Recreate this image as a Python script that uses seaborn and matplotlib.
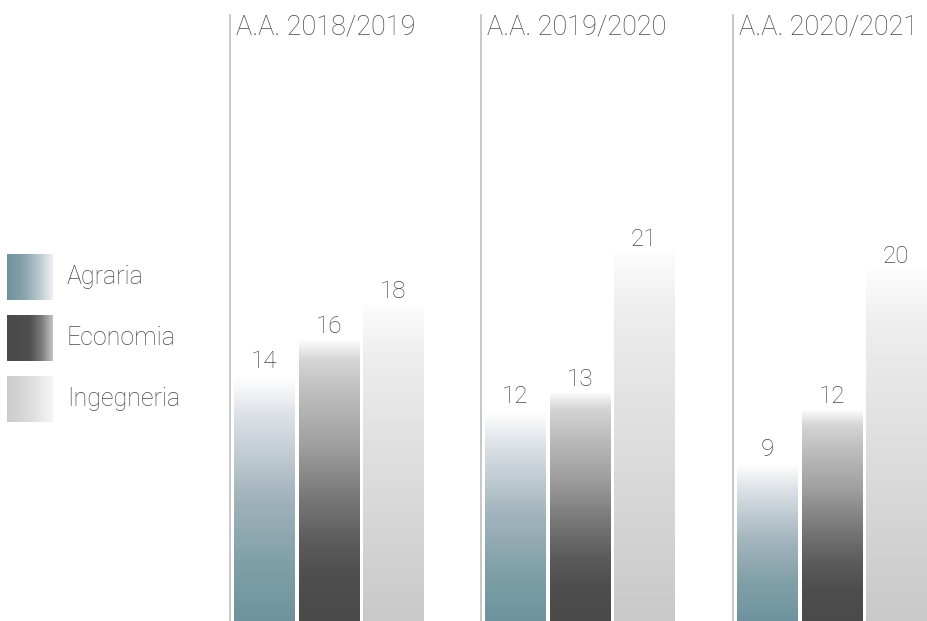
import numpy as np
import pandas as pd
import matplotlib
matplotlib.use('Agg')
import matplotlib.pyplot as plt
from matplotlib.colors import LinearSegmentedColormap
import seaborn as sns

# data
anni = ['A.A. 2018/2019', 'A.A. 2019/2020', 'A.A. 2020/2021']
facolta = ['Agraria', 'Economia', 'Ingegneria']
agraria = [14, 12, 9]
economia = [16, 13, 12]
ingegneria = [18, 21, 20]

df = pd.DataFrame({
    'anno': np.repeat(anni, 3),
    'facolta': facolta * 3,
    'valore': [v for trio in zip(agraria, economia, ingegneria) for v in trio],
})

sns.set_theme(style='white')
plt.rcParams['font.family'] = ['Roboto', 'DejaVu Sans']
plt.rcParams['font.weight'] = 'light'
TXT = '#484848'

# vertical gradients (bottom -> top) for the bars
cmaps = {
    'Agraria': LinearSegmentedColormap.from_list('agr', [
        (0, '#6e939e'), (0.24, '#80a0a8'), (0.51, '#a3b4bc'),
        (0.84, '#dde2e8'), (0.97, '#fbfbfc'), (1, '#ffffff')]),
    'Economia': LinearSegmentedColormap.from_list('eco', [
        (0, '#4a4a4a'), (0.15, '#4e4e4e'), (0.27, '#5a5a5a'), (0.45, '#7a7a7a'),
        (0.63, '#a0a0a0'), (0.81, '#bdbdbd'), (0.93, '#d5d5d5'), (1, '#fcfcfc')]),
    'Ingegneria': LinearSegmentedColormap.from_list('ing', [
        (0, '#c9c9c9'), (0.5, '#dedede'), (0.85, '#eeeeee'), (1, '#fdfdfd')]),
}
# horizontal gradients (left -> right) for the legend squares
leg_cmaps = {
    'Agraria': LinearSegmentedColormap.from_list('lagr', [
        (0, '#6e939e'), (0.35, '#86a2ab'), (0.7, '#b9c8ce'), (1, '#eef1f3')]),
    'Economia': LinearSegmentedColormap.from_list('leco', [
        (0, '#4a4a4a'), (0.5, '#4f4f4f'), (0.75, '#7a7a7a'), (1, '#c4c4c4')]),
    'Ingegneria': LinearSegmentedColormap.from_list('ling', [
        (0, '#cbcbcb'), (0.5, '#dcdcdc'), (1, '#f6f6f6')]),
}

W, H = 928, 621
fig = plt.figure(figsize=(W / 100, H / 100), dpi=100)

# overlay in pixel coordinates for legend and titles
ov = fig.add_axes([0, 0, 1, 1])
ov.set_xlim(0, W)
ov.set_ylim(H, 0)
ov.axis('off')

grad_h = np.linspace(0, 1, 256).reshape(1, -1)
for i, f in enumerate(facolta):
    top = 254 + i * 61
    ov.imshow(grad_h, cmap=leg_cmaps[f], extent=(7, 53, top + 46, top),
              aspect='auto', interpolation='bicubic')
    ov.text(67, top + 23, f, fontsize=18, color=TXT, va='center', ha='left')
ov.set_xlim(0, W)
ov.set_ylim(H, 0)

px_per_unit = 17.55
ax_top = 15
ylim_top = (H - ax_top) / px_per_unit
group_left = [230, 481, 733]
ax_w = 195.5

grad_v = np.linspace(0, 1, 256).reshape(-1, 1)
for k, anno in enumerate(anni):
    L = group_left[k]
    ax = fig.add_axes([L / W, 0, ax_w / W, (H - ax_top) / H])
    ax.patch.set_alpha(0)
    sub = df[df['anno'] == anno]
    sns.barplot(data=sub, x='facolta', y='valore', order=facolta,
                width=0.93, color='white', ax=ax)
    for patch, f, v in zip(ax.patches, facolta, sub['valore']):
        x0, y0 = patch.get_x(), patch.get_y()
        w, h = patch.get_width(), patch.get_height()
        patch.set_facecolor('none')
        patch.set_edgecolor('none')
        im = ax.imshow(grad_v, cmap=cmaps[f], origin='lower',
                       extent=(x0, x0 + w, y0, y0 + h), aspect='auto',
                       interpolation='bicubic')
        im.set_clip_path(patch)
        ax.annotate(str(v), (x0 + w / 2, y0 + h), xytext=(0, 5),
                    textcoords='offset points', ha='center', va='baseline',
                    fontsize=17.5, color=TXT)
    ax.set_xlim(-0.53, 2.5)
    ax.set_ylim(0, ylim_top)
    ax.set_xlabel('')
    ax.set_ylabel('')
    ax.set_xticks([])
    ax.set_yticks([])
    for s in ['top', 'right', 'bottom']:
        ax.spines[s].set_visible(False)
    ax.spines['left'].set_color('#bdbdbd')
    ax.spines['left'].set_linewidth(1.2)
    ov.text(L + 6, 27, anno, fontsize=19.5, color=TXT, va='center', ha='left')

fig.savefig('out.png', dpi=100)
